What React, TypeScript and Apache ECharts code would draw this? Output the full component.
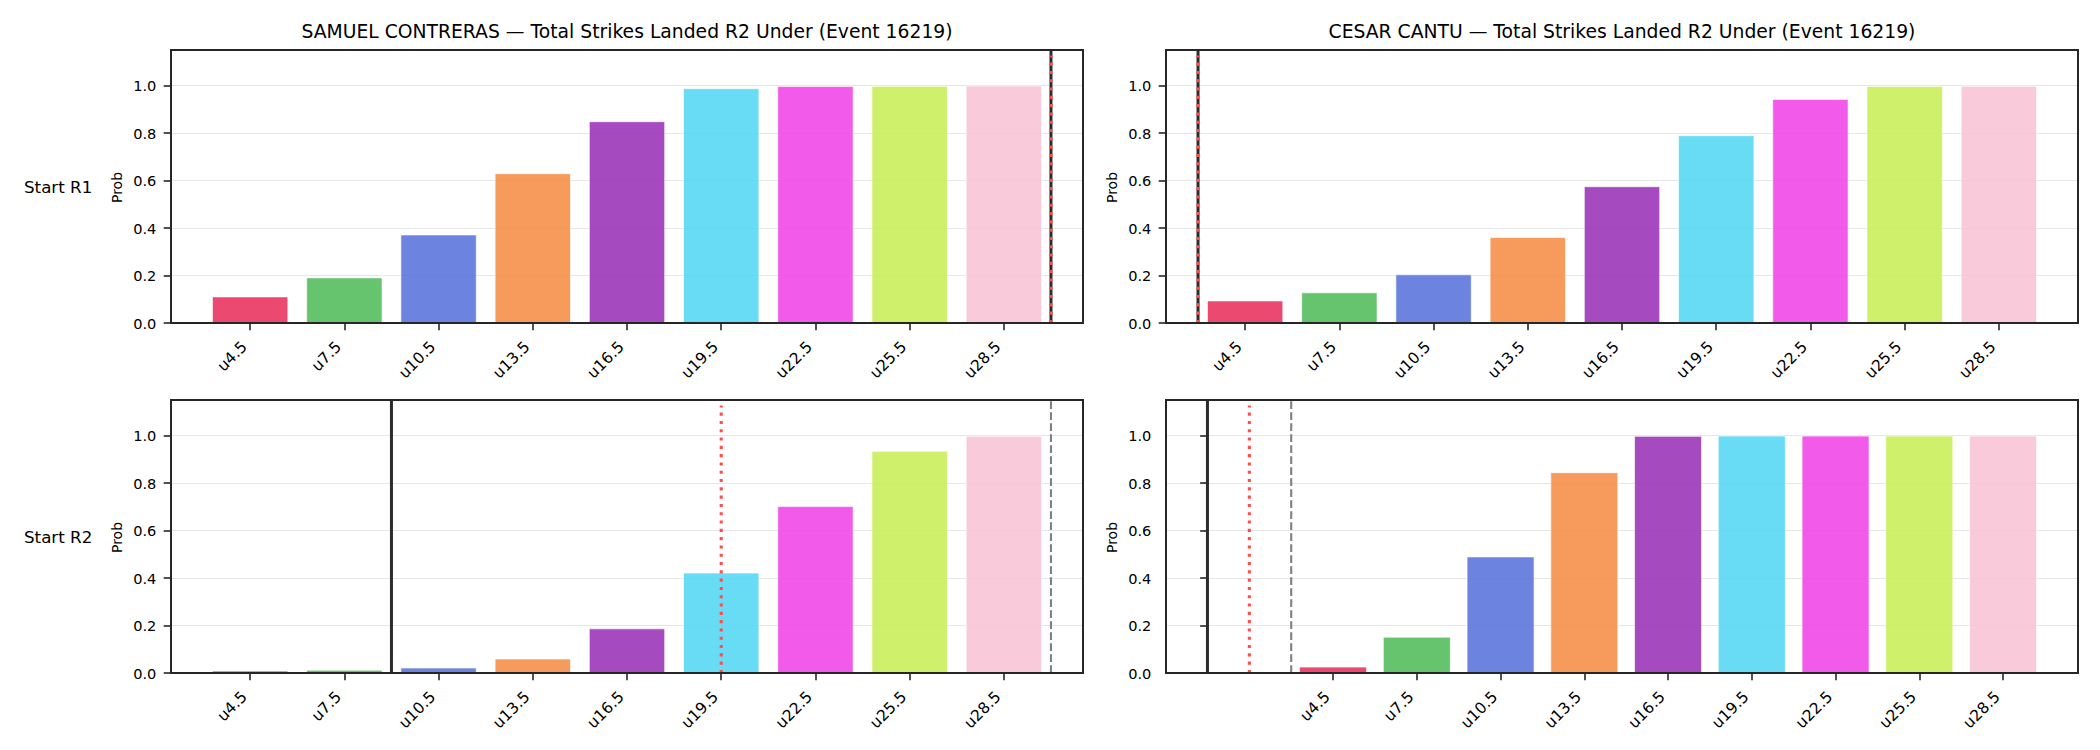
import React, { useEffect, useRef } from "react";
import * as echarts from "echarts";

// Strike-total thresholds ("under" lines) shown on every panel
const lineLabels = ["u4.5", "u7.5", "u10.5", "u13.5", "u16.5", "u19.5", "u22.5", "u25.5", "u28.5"];
const lineValues = [4.5, 7.5, 10.5, 13.5, 16.5, 19.5, 22.5, 25.5, 28.5];
const yTicks = [0, 0.2, 0.4, 0.6, 0.8, 1.0];

const barColors = [
  "rgba(233,41,87,0.85)",
  "rgba(75,185,85,0.85)",
  "rgba(82,110,217,0.85)",
  "rgba(244,138,63,0.85)",
  "rgba(149,42,180,0.85)",
  "rgba(78,213,243,0.85)",
  "rgba(240,62,229,0.85)",
  "rgba(197,237,80,0.85)",
  "rgba(248,193,211,0.85)",
];

// Under probabilities per fighter and starting round
const contrerasR1 = [0.11, 0.19, 0.371, 0.629, 0.848, 0.987, 0.996, 0.997, 0.998];
const cantuR1 = [0.093, 0.127, 0.203, 0.36, 0.574, 0.789, 0.942, 0.996, 0.997];
const contrerasR2 = [0.008, 0.012, 0.021, 0.059, 0.186, 0.421, 0.701, 0.934, 0.997];
const cantuR2 = [0.025, 0.151, 0.489, 0.844, 0.997, 0.998, 0.998, 0.998, 0.998];

// Reference markers: solid = current strikes, dotted = projection, dashed = pace
const contrerasR1Solid = [30];
const contrerasR1Dotted = [30];
const contrerasR1Dashed: number[] = [];
const cantuR1Solid = [3];
const cantuR1Dotted = [3];
const cantuR1Dashed: number[] = [];
const contrerasR2Solid = [9];
const contrerasR2Dotted = [19.5];
const contrerasR2Dashed = [30];
const cantuR2Solid = [0];
const cantuR2Dotted = [1.5];
const cantuR2Dashed = [3];

const fighters = ["SAMUEL CONTRERAS", "CESAR CANTU"];
const rowLabels = ["Start R1", "Start R2"];
const titleSuffix = " \u2014 Total Strikes Landed R2 Under (Event 16219)";

const BAR_W = 2.4;
const Y_MAX = 1.15;
const FONT = "DejaVu Sans";

type Panel = {
  values: number[];
  solid: number[];
  dotted: number[];
  dashed: number[];
  col: number;
  row: number;
};

const panels: Panel[] = [
  { values: contrerasR1, solid: contrerasR1Solid, dotted: contrerasR1Dotted, dashed: contrerasR1Dashed, col: 0, row: 0 },
  { values: cantuR1, solid: cantuR1Solid, dotted: cantuR1Dotted, dashed: cantuR1Dashed, col: 1, row: 0 },
  { values: contrerasR2, solid: contrerasR2Solid, dotted: contrerasR2Dotted, dashed: contrerasR2Dashed, col: 0, row: 1 },
  { values: cantuR2, solid: cantuR2Solid, dotted: cantuR2Dotted, dashed: cantuR2Dashed, col: 1, row: 1 },
];

// Layout of the 2x2 grid of axes
const GRID_LEFT = [171, 1166];
const GRID_TOP = [50, 400];
const GRID_W = 912;
const GRID_H = 273;

// x-range: bars with 5% margins, widened only for markers that fall outside
function xRange(markers: number[]): [number, number] {
  let lo = lineValues[0] - BAR_W / 2;
  let hi = lineValues[lineValues.length - 1] + BAR_W / 2;
  let pad = (hi - lo) * 0.05;
  let min = lo - pad;
  let max = hi + pad;
  const outside = markers.filter((m) => m < min || m > max);
  if (outside.length) {
    lo = Math.min(lo, ...outside);
    hi = Math.max(hi, ...outside);
    pad = (hi - lo) * 0.05;
    min = lo - pad;
    max = hi + pad;
  }
  return [min, max];
}

function markerSeries(
  idx: number,
  xs: number[],
  top: number,
  style: { stroke: string; lineWidth: number; lineDash?: number[] },
  z: number
) {
  return {
    type: "custom",
    xAxisIndex: idx,
    yAxisIndex: idx,
    z,
    silent: true,
    data: xs.map((x) => [x, top]),
    encode: { x: 0, y: 1 },
    renderItem: (_params: any, api: any) => {
      const p0 = api.coord([api.value(0), 0]);
      const p1 = api.coord([api.value(0), api.value(1)]);
      return {
        type: "line",
        shape: { x1: p0[0], y1: p0[1], x2: p1[0], y2: p1[1] },
        style: { ...style, fill: null, lineCap: "butt" },
      };
    },
  };
}

function buildOption() {
  const grid: any[] = [];
  const xAxis: any[] = [];
  const yAxis: any[] = [];
  const series: any[] = [];
  const graphic: any[] = [];

  panels.forEach((p, i) => {
    const left = GRID_LEFT[p.col];
    const top = GRID_TOP[p.row];
    grid.push({
      left,
      top,
      width: GRID_W,
      height: GRID_H,
      show: true,
      z: 10,
      borderColor: "#262626",
      borderWidth: 2,
      backgroundColor: "transparent",
    });
    const [xmin, xmax] = xRange([...p.solid, ...p.dotted, ...p.dashed]);
    xAxis.push({
      type: "value",
      gridIndex: i,
      min: xmin,
      max: xmax,
      axisLine: { show: false },
      splitLine: { show: false },
      axisTick: {
        show: true,
        customValues: lineValues,
        length: 7.3,
        lineStyle: { color: "#262626", width: 1.6 },
      },
      axisLabel: {
        customValues: lineValues,
        formatter: (v: number) => lineLabels[lineValues.indexOf(v)] ?? "",
        rotate: 45,
        align: "right",
        verticalAlign: "bottom",
        margin: 27,
        fontSize: 15.5,
        fontFamily: FONT,
        color: "#000",
      },
    });
    yAxis.push({
      type: "value",
      gridIndex: i,
      min: 0,
      max: Y_MAX,
      interval: 0.2,
      axisLine: { show: false },
      splitLine: { show: true, lineStyle: { color: "#e6e6e6", width: 1.2 } },
      axisTick: {
        show: true,
        customValues: yTicks,
        length: 7.3,
        lineStyle: { color: "#262626", width: 1.6 },
      },
      axisLabel: {
        customValues: yTicks,
        formatter: (v: number) => v.toFixed(1),
        margin: 14.6,
        fontSize: 14.6,
        fontFamily: FONT,
        color: "#000",
      },
    });

    series.push({
      type: "custom",
      xAxisIndex: i,
      yAxisIndex: i,
      z: 2,
      silent: true,
      data: lineValues.map((x, k) => [x, p.values[k]]),
      encode: { x: 0, y: 1 },
      renderItem: (params: any, api: any) => {
        const x = api.value(0);
        const v = api.value(1);
        const a = api.coord([x - BAR_W / 2, v]);
        const b = api.coord([x + BAR_W / 2, 0]);
        return {
          type: "rect",
          shape: { x: a[0], y: a[1], width: b[0] - a[0], height: b[1] - a[1] },
          style: { fill: barColors[params.dataIndex], stroke: "rgba(255,255,255,0.8)", lineWidth: 0.8 },
        };
      },
    });

    series.push(markerSeries(i, p.solid, Y_MAX, { stroke: "#2b2b2b", lineWidth: 3 }, 3));
    series.push(markerSeries(i, p.dashed, Y_MAX, { stroke: "#808080", lineWidth: 2.1, lineDash: [7.7, 3.3] }, 4));
    series.push(markerSeries(i, p.dotted, Y_MAX * 0.98, { stroke: "#ff4d4d", lineWidth: 3.1, lineDash: [3.1, 5.2] }, 5));

    graphic.push({
      type: "text",
      x: left - 54.5,
      y: top + GRID_H / 2 + 1,
      rotation: Math.PI / 2,
      style: {
        text: "Prob",
        font: `14px "${FONT}"`,
        fill: "#000",
        align: "center",
        verticalAlign: "middle",
      },
    });
  });

  fighters.forEach((name, c) => {
    graphic.push({
      type: "text",
      x: GRID_LEFT[c] + GRID_W / 2,
      y: 31,
      style: {
        text: name + titleSuffix,
        font: `18.75px "${FONT}"`,
        fill: "#000",
        align: "center",
        verticalAlign: "middle",
      },
    });
  });

  rowLabels.forEach((label, r) => {
    graphic.push({
      type: "text",
      x: 24,
      y: GRID_TOP[r] + GRID_H / 2,
      style: {
        text: label,
        font: `16.7px "${FONT}"`,
        fill: "#000",
        align: "left",
        verticalAlign: "middle",
      },
    });
  });

  return {
    animation: false,
    backgroundColor: "#ffffff",
    grid,
    xAxis,
    yAxis,
    series,
    graphic,
  };
}

export default function App() {
  const ref = useRef<HTMLDivElement>(null);

  useEffect(() => {
    if (!ref.current) return;
    const chart = echarts.init(ref.current, undefined, { renderer: "svg" });
    chart.setOption(buildOption() as any);
    return () => chart.dispose();
  }, []);

  return (
    <div
      ref={ref}
      style={{ position: "fixed", left: 0, top: 0, width: 2100, height: 750, background: "#fff" }}
    />
  );
}
